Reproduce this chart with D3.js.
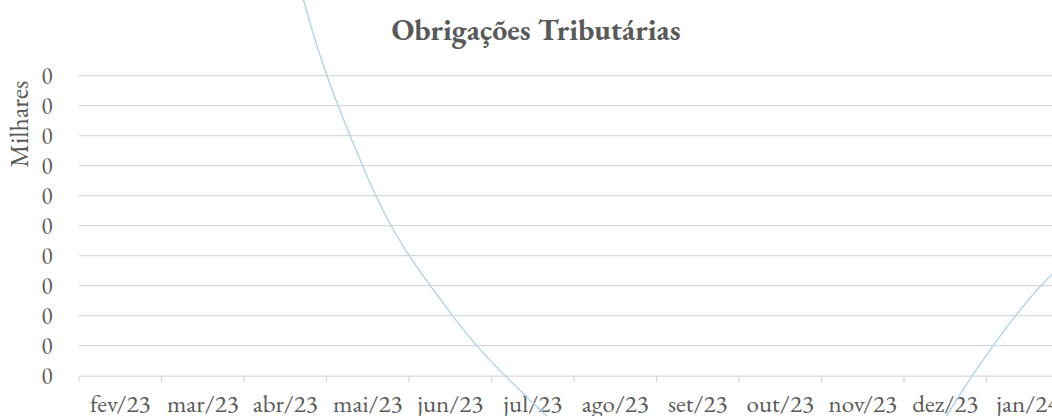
<!DOCTYPE html>
<html>
<head>
<meta charset="utf-8">
<script src="https://cdn.jsdelivr.net/npm/d3@7"></script>
<style>
  html, body { margin: 0; padding: 0; background: #fff; overflow: hidden; }
  svg { display: block; }
</style>
</head>
<body>
<div id="chart"></div>
<script>
// categories (the chart continues past the right edge)
var months = ["fev/23", "mar/23", "abr/23", "mai/23", "jun/23", "jul/23",
  "ago/23", "set/23", "out/23", "nov/23", "dez/23", "jan/24", "fev/24"]
// values in reais, axis shows thousands
var values = [300, 316, 150, 66, 21, -9, -32, -45, -55, -63, -14, 25, 52]
var yTicks = [0, 10, 20, 30, 40, 50, 60, 70, 80, 90, 100]

var width = 1052
var height = 416
var fontFamily = "Garamond, 'EB Garamond', 'Liberation Serif', 'Times New Roman', serif"

var svg = d3.select('#chart').append("svg")
svg.attr('width', width).attr('height', height)

var x = d3.scaleBand()
  .domain(months)
  .range([79, 79 + 82.5 * months.length])

var y = d3.scaleLinear()
  .domain([0, 100])
  .range([375.7, 75.7])

// gridlines
svg.append("g")
  .selectAll("line")
  .data(yTicks.slice(1))
  .enter().append("line")
  .attr("x1", x.range()[0])
  .attr("x2", x.range()[1])
  .attr("y1", function(d) { return y(d) })
  .attr("y2", function(d) { return y(d) })
  .attr("stroke", "#d9d9d9")
  .attr("stroke-width", 1.3)

// y labels, everything rounds to 0 milhares
svg.append("g")
  .selectAll("text")
  .data(yTicks)
  .enter().append("text")
  .attr("x", 52.5)
  .attr("y", function(d) { return y(d) })
  .attr("dy", "0.34em")
  .attr("text-anchor", "end")
  .style("font-family", fontFamily)
  .style("font-size", "23px")
  .style("fill", "#595959")
  .text(function(d) { return d3.format(".0f")(d / 1000) })

// x axis
var xAxis = svg.append("g")
  .attr("transform", "translate(0," + y(0) + ")")
  .call(d3.axisBottom(x).tickSize(0).tickSizeOuter(0))

xAxis.select(".domain")
  .attr("stroke", "#d9d9d9")
  .attr("stroke-width", 1.3)

xAxis.selectAll("text")
  .attr("y", 36)
  .attr("dy", 0)
  .style("font-family", fontFamily)
  .style("font-size", "25px")
  .style("fill", "#595959")

// tick marks between categories
svg.append("g")
  .selectAll("line")
  .data(months)
  .enter().append("line")
  .attr("x1", function(d) { return x(d) })
  .attr("x2", function(d) { return x(d) })
  .attr("y1", y(0))
  .attr("y2", y(0) + 6.5)
  .attr("stroke", "#d9d9d9")
  .attr("stroke-width", 1.3)

// smoothed line, not clipped to the plot area
var line = d3.line()
  .x(function(d, i) { return x(months[i]) + x.bandwidth() / 2 })
  .y(function(d) { return y(d) })
  .curve(d3.curveCatmullRom.alpha(0))

svg.append("path")
  .datum(values)
  .attr("d", line)
  .attr("fill", "none")
  .attr("stroke", "#b2d4ea")
  .attr("stroke-width", 1.4)

// title
svg.append("text")
  .attr("x", 536)
  .attr("y", 39.5)
  .attr("text-anchor", "middle")
  .style("font-family", fontFamily)
  .style("font-size", "30px")
  .style("font-weight", "bold")
  .style("fill", "#595959")
  .text("Obrigações Tributárias")

// display units label
svg.append("text")
  .attr("transform", "translate(28,124) rotate(-90)")
  .attr("text-anchor", "middle")
  .style("font-family", fontFamily)
  .style("font-size", "26px")
  .style("fill", "#595959")
  .text("Milhares")
</script>
</body>
</html>
